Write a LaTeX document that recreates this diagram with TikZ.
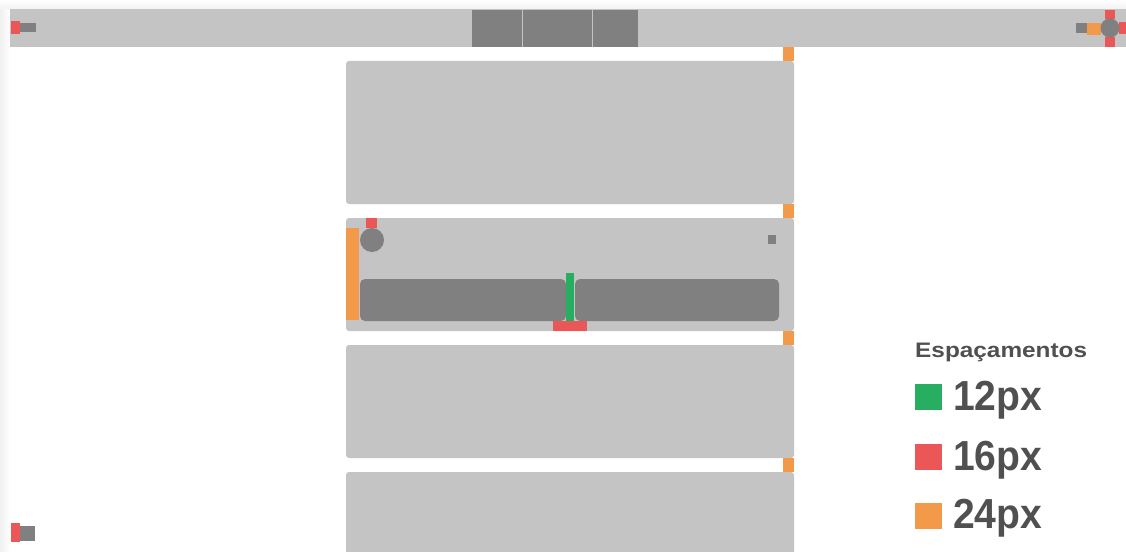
\documentclass[tikz,border=0pt]{standalone}
\usepackage{fontspec}
\setmainfont{Liberation Sans}
\definecolor{lgray}{HTML}{C4C4C4}
\definecolor{dgray}{HTML}{808080}
\definecolor{sred}{HTML}{EB5757}
\definecolor{sorange}{HTML}{F2994A}
\definecolor{sgreen}{HTML}{27AE60}
\definecolor{txt}{HTML}{505050}
\tikzset{
  card/.style={fill=lgray, rounded corners=3pt},
  inner/.style={fill=dgray, rounded corners=5pt},
  seg/.style={fill=dgray},
  red/.style={fill=sred},
  orange/.style={fill=sorange},
  green/.style={fill=sgreen},
  gdot/.style={fill=dgray},
  legtitle/.style={anchor=base west, inner sep=0pt, text=txt},
  legtext/.style={anchor=base west, inner sep=0pt, text=txt},
}
\begin{document}
\begin{tikzpicture}[x=1pt,y=-1pt]
\useasboundingbox (0,0) rectangle (1126,551);
\fill[white] (0,0) rectangle (1126,551);
% faint shadows
\shade[left color=gray!12, right color=white] (0,9) rectangle (10,551);
\shade[top color=white, bottom color=gray!10] (0,0) rectangle (1126,9);
% top bar
\fill[lgray] (10,9) rectangle (1126,47);
\fill[seg] (472,10) rectangle (522,47);
\fill[seg] (523,10) rectangle (592,47);
\fill[seg] (593,10) rectangle (638,47);
% top-left marks
\fill[dgray] (20,23) rectangle (36,32);
\fill[red] (11,21) rectangle (20,34);
% top-right marks
\fill[dgray] (1076,23) rectangle (1087,33);
\fill[orange] (1087,23) rectangle (1101,35);
\fill[red] (1105,10) rectangle (1115,19);
\fill[red] (1105,37) rectangle (1115,47);
\fill[red] (1119,22) rectangle (1126,34);
\fill[gdot] (1110,28) circle (9.5);
% cards
\fill[card] (346,61) rectangle (794,204);
\fill[card] (346,218) rectangle (794,331);
\fill[card] (346,345) rectangle (794,458);
\fill[card] (346,472) rectangle (794,560);
% orange gaps
\fill[orange] (783,47) rectangle (794,61);
\fill[orange] (783,204) rectangle (794,218);
\fill[orange] (783,331) rectangle (794,345);
\fill[orange] (783,458) rectangle (794,472);
% card 2 details
\fill[orange] (346,228) rectangle (359,320);
\fill[red] (366,218) rectangle (377,228);
\fill[gdot] (372,240) circle (12);
\fill[dgray] (768,235) rectangle (776,244);
\fill[inner] (360,279) rectangle (566,321);
\fill[inner] (575,279) rectangle (779,321);
\fill[green] (566,273) rectangle (574,321);
\fill[red] (553,321) rectangle (587,331);
% bottom-left marks
\fill[dgray] (20,526) rectangle (35,541);
\fill[red] (11,523) rectangle (20,542);
% legend
\node[legtitle] (title) at (915,357) {\scalebox{1.16}[1]{\fontsize{21}{24}\selectfont\bfseries Espaçamentos}};
\fill[green] (915,384) rectangle (942,410);
\fill[red] (915,444) rectangle (942,470);
\fill[orange] (915,503) rectangle (942,529);
\node[legtext] (l12) at (953,410) {\scalebox{0.93}[1]{\fontsize{42}{46}\selectfont\bfseries 12px}};
\node[legtext] (l16) at (953,470) {\scalebox{0.93}[1]{\fontsize{42}{46}\selectfont\bfseries 16px}};
\node[legtext] (l24) at (953,528) {\scalebox{0.93}[1]{\fontsize{42}{46}\selectfont\bfseries 24px}};
\end{tikzpicture}
\end{document}
